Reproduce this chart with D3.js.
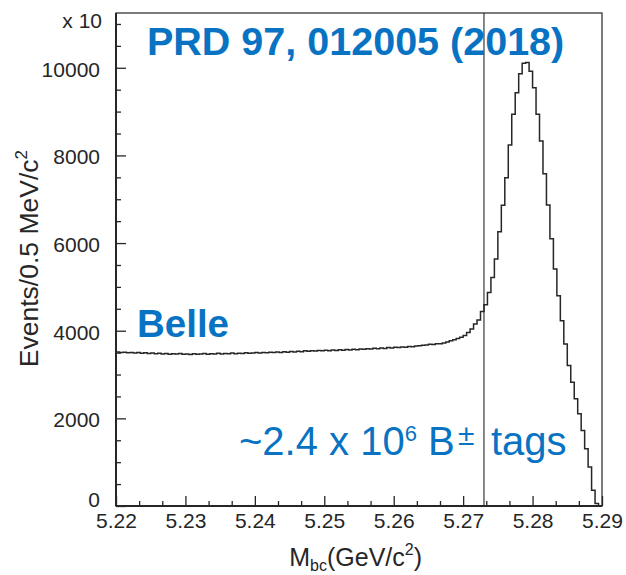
<!DOCTYPE html>
<html>
<head>
<meta charset="utf-8">
<script src="https://cdn.jsdelivr.net/npm/d3@7"></script>
<style>
  html, body { margin: 0; padding: 0; background: #fff; }
  svg { display: block; }
  text { font-family: "Liberation Sans", Arial, Helvetica, sans-serif; }
</style>
</head>
<body>
<svg id="chart" width="626" height="575"></svg>
<script>
// ---- data ----
const xMin = 5.22, xMax = 5.29, binWidth = 0.0005;
const counts = [
  3515, 3500, 3510, 3495, 3505, 3490, 3500, 3485, 3495, 3480,
  3490, 3475, 3485, 3470, 3480, 3465, 3475, 3470, 3480, 3465,
  3470, 3460, 3475, 3465, 3470, 3480, 3465, 3475, 3470, 3485,
  3470, 3480, 3475, 3490, 3475, 3485, 3480, 3495, 3485, 3490,
  3500, 3490, 3505, 3495, 3510, 3500, 3515, 3505, 3520, 3510,
  3525, 3515, 3530, 3520, 3540, 3530, 3545, 3535, 3550, 3540,
  3555, 3545, 3560, 3550, 3565, 3555, 3570, 3560, 3575, 3565,
  3580, 3575, 3590, 3580, 3600, 3590, 3605, 3595, 3615, 3605,
  3620, 3615, 3630, 3625, 3640, 3635, 3650, 3655, 3670, 3675,
  3690, 3685, 3700, 3705, 3720, 3745, 3770, 3795, 3825, 3850,
  3890, 3960, 4040, 4154, 4245, 4441, 4594, 4874, 5215, 5634,
  6256, 6864, 7493, 8237, 8937, 9428, 9861, 10105, 10120, 9923,
  9542, 8937, 8329, 7584, 6871, 6097, 5406, 4798, 4229, 3698,
  3204, 2824, 2446, 2104, 1724, 1307, 888, 358, 55, 0
];
const cutValue = 5.273;
const xMajorTicks = [5.22, 5.23, 5.24, 5.25, 5.26, 5.27, 5.28, 5.29];
const yMajorTicks = [0, 2000, 4000, 6000, 8000, 10000];
const yMinorStep = 500;
const yMax = 11250;

// ---- layout ----
const L = 116, R = 602, T = 13, B = 506;
const svg = d3.select("#chart");
const x = d3.scaleLinear().domain([xMin, xMax]).range([L, R]);
const y = d3.scaleLinear().domain([0, yMax]).range([B, T]);

const ink = "#262626";
const blue = "#0873c2";

// minor ticks
const xMinor = [];
for (let i = 0; i < xMajorTicks.length - 1; i++) {
  const a = xMajorTicks[i], b = xMajorTicks[i + 1];
  xMinor.push(a + (b - a) / 3, a + 2 * (b - a) / 3);
}
const yMinor = d3.range(yMinorStep, yMax, yMinorStep).filter(v => v % 2000 !== 0);

// x axis
const gx = svg.append("g").attr("transform", `translate(0,${B})`);
gx.call(d3.axisBottom(x).tickValues(xMajorTicks).tickSize(-10).tickPadding(22)
  .tickFormat(d3.format(".2f")));
gx.append("g").call(d3.axisBottom(x).tickValues(xMinor).tickSize(-5).tickFormat(""));
gx.selectAll(".domain").remove();
gx.selectAll("line").attr("stroke", ink).attr("stroke-width", 1.3);
gx.selectAll("text").attr("font-size", 21).attr("fill", ink)
  .attr("dy", null).attr("y", 22);

// y axis
const gy = svg.append("g").attr("transform", `translate(${L},0)`);
gy.call(d3.axisLeft(y).tickValues(yMajorTicks).tickSize(-10).tickPadding(16)
  .tickFormat(d3.format("d")));
gy.append("g").call(d3.axisLeft(y).tickValues(yMinor).tickSize(-5).tickFormat(""));
gy.selectAll(".domain").remove();
gy.selectAll("line").attr("stroke", ink).attr("stroke-width", 1.3);
gy.selectAll("text").attr("font-size", 21).attr("fill", ink)
  .attr("dy", d => d === 0 ? "0.0em" : "0.4em");

// frame
svg.append("rect").attr("x", L).attr("y", T).attr("width", R - L).attr("height", B - T)
  .attr("fill", "none").attr("stroke", ink).attr("stroke-width", 1.2);
svg.append("line").attr("x1", L).attr("x2", L).attr("y1", T).attr("y2", B)
  .attr("stroke", ink).attr("stroke-width", 2);
svg.append("line").attr("x1", L).attr("x2", R).attr("y1", B).attr("y2", B)
  .attr("stroke", ink).attr("stroke-width", 2);

// histogram
const pts = counts.map((c, i) => [xMin + i * binWidth, c]);
pts.push([xMax, counts[counts.length - 1]]);
const line = d3.line().x(d => x(d[0])).y(d => y(d[1])).curve(d3.curveStepAfter);
svg.append("path").attr("d", line(pts)).attr("fill", "none")
  .attr("stroke", ink).attr("stroke-width", 1.5);

// cut line
svg.append("line").attr("x1", x(cutValue)).attr("x2", x(cutValue))
  .attr("y1", T).attr("y2", B).attr("stroke", ink).attr("stroke-width", 1.1);

// exponent label
svg.append("text").attr("x", 102).attr("y", 28).attr("text-anchor", "end")
  .attr("font-size", 21).attr("fill", ink).text("x 10");

// axis titles
const xt = svg.append("text").attr("x", 422).attr("y", 566).attr("text-anchor", "end")
  .attr("font-size", 25).attr("fill", ink);
xt.append("tspan").text("M");
xt.append("tspan").attr("font-size", 16).attr("dy", 5).text("bc");
xt.append("tspan").attr("dy", -5).text("(GeV/c");
xt.append("tspan").attr("font-size", 16).attr("dy", -11).text("2");
xt.append("tspan").attr("dy", 11).text(")");

const yt = svg.append("text").attr("transform", "translate(38,150) rotate(-90)")
  .attr("text-anchor", "end").attr("font-size", 26.5).attr("fill", ink);
yt.append("tspan").text("Events/0.5 MeV/c");
yt.append("tspan").attr("font-size", 17).attr("dy", -11).text("2");

// annotations
svg.append("text").attr("x", 147).attr("y", 55).attr("font-size", 39.5)
  .attr("font-weight", "bold").attr("fill", blue).text("PRD 97, 012005 (2018)");
svg.append("text").attr("x", 137).attr("y", 337).attr("font-size", 38.5)
  .attr("font-weight", "bold").attr("fill", blue).text("Belle");
const tg = svg.append("text").attr("x", 239).attr("y", 455).attr("font-size", 40)
  .attr("fill", blue);
tg.append("tspan").text("~2.4 x 10");
tg.append("tspan").attr("font-size", 22).attr("dy", -14).text("6");
tg.append("tspan").attr("x", 428).attr("dy", 14).text("B");
tg.append("tspan").attr("x", 458).attr("font-size", 30).attr("dy", -10).text("±");
tg.append("tspan").attr("x", 491).attr("dy", 10).text("tags");
</script>
</body>
</html>
